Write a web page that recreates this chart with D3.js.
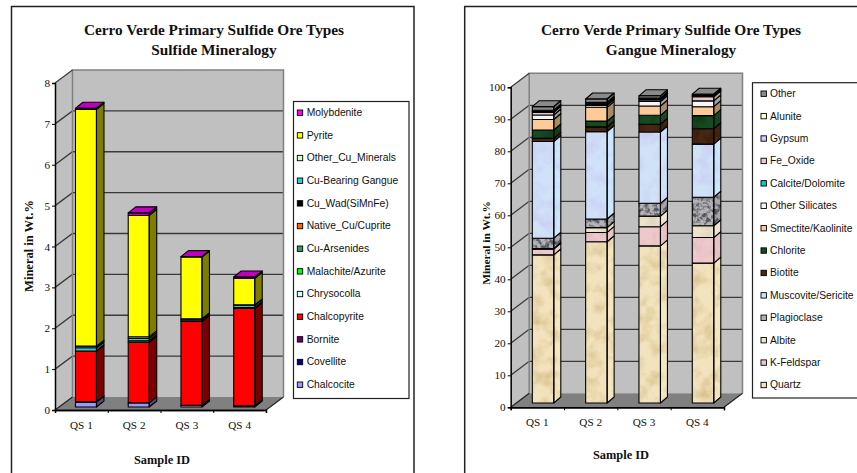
<!DOCTYPE html>
<html>
<head>
<meta charset="utf-8">
<script src="https://cdn.jsdelivr.net/npm/d3@7"></script>
<style>
  body { margin: 0; background: #fff; }
  svg { display: block; }
  .serif { font-family: "Liberation Serif", serif; fill: #111; }
  .legend-text { font-family: "Liberation Sans", sans-serif; font-size: 10.3px; fill: #111; }
</style>
</head>
<body>
<div id="chart"></div>
<script>
const samples = ["QS 1", "QS 2", "QS 3", "QS 4"];

// Sulfide chart, wt.% per sample
const chalcocite = [0.12, 0.10, 0.04, 0.02];
const covellite = [0, 0, 0, 0.01];
const bornite = [0.01, 0, 0, 0];
const chalcopyrite = [1.24, 1.48, 2.05, 2.38];
const chrysocolla = [0, 0, 0.02, 0];
const malachite = [0, 0, 0, 0];
const cuArsenides = [0, 0.04, 0, 0.02];
const nativeCu = [0, 0, 0, 0];
const cuWad = [0, 0, 0, 0];
const cuGangue = [0.08, 0.06, 0.04, 0.06];
const otherCu = [0.04, 0.04, 0.01, 0.01];
const pyrite = [5.79, 2.97, 1.51, 0.65];
const molybdenite = [0.03, 0.06, 0.01, 0.03];

const sulfideNames = ["Chalcocite", "Covellite", "Bornite", "Chalcopyrite", "Chrysocolla", "Malachite/Azurite",
  "Cu-Arsenides", "Native_Cu/Cuprite", "Cu_Wad(SiMnFe)", "Cu-Bearing Gangue", "Other_Cu_Minerals", "Pyrite", "Molybdenite"];
const sulfideValues = [chalcocite, covellite, bornite, chalcopyrite, chrysocolla, malachite,
  cuArsenides, nativeCu, cuWad, cuGangue, otherCu, pyrite, molybdenite];
const sulfideColors = ["#9999ff", "#000080", "#660066", "#ff0000", "#ccffff", "#00ff00",
  "#339966", "#ff6600", "#000000", "#33cccc", "#ccffcc", "#ffff00", "#ff00ff"];

// Gangue chart, wt.% per sample
const quartz = [46.3, 50.4, 49.1, 43.7];
const kFeldspar = [1.8, 2.9, 6.0, 8.0];
const albite = [0.2, 1.5, 3.3, 3.7];
const plagioclase = [3.2, 2.7, 4.0, 8.9];
const muscovite = [30.2, 27.3, 22.3, 16.6];
const biotite = [1.0, 1.5, 2.4, 4.8];
const chlorite = [2.6, 1.8, 2.8, 4.1];
const smectite = [3.3, 4.3, 2.9, 2.8];
const otherSilicates = [1.4, 0.6, 1.4, 1.8];
const calcite = [0, 0.1, 0, 0];
const feOxide = [0.8, 0.3, 0.5, 1.3];
const gypsum = [0.3, 0.3, 0.3, 0.2];
const alunite = [0.4, 0.3, 0.3, 0.2];
const otherGangue = [1.1, 1.0, 0.7, 0.4];

const gangueNames = ["Quartz", "K-Feldspar", "Albite", "Plagioclase", "Muscovite/Sericite", "Biotite", "Chlorite",
  "Smectite/Kaolinite", "Other Silicates", "Calcite/Dolomite", "Fe_Oxide", "Gypsum", "Alunite", "Other"];
const gangueValues = [quartz, kFeldspar, albite, plagioclase, muscovite, biotite, chlorite,
  smectite, otherSilicates, calcite, feOxide, gypsum, alunite, otherGangue];
const gangueColors = ["#f2e2bd", "#eec9cb", "#eee3cf", "#b4b4b8", "#d0e2f8", "#4a2712", "#174a22",
  "#fdcb98", "#f6f6f6", "#00cccc", "#eccaca", "#ccccff", "#ffffcc", "#8c8c8c"];
const gangueSides = ["#f6e6c0", "#eec9cb", "#f0e6d0", "#a8a8ac", "#cce8ff", "#4a2712", "#174a22",
  "#a88a64", "#a0a0a0", "#008080", "#b09a9a", "#8888aa", "#aaaa88", "#707070"];
const gangueNoise = ["#c9ad72", "#d9a8ac", "#cfc0a0", "#55555c", "#c6bdf0", "#1e0c02", "#06280e",
  null, null, null, "#c9a0a0", null, null, null];

const svg = d3.select("#chart").append("svg").attr("width", 857).attr("height", 473);
const defs = svg.append("defs");

// noise overlay for the picture-filled bars
gangueNoise.forEach((tint, i) => {
  if (!tint) return;
  const rgb = d3.rgb(tint);
  const f = defs.append("filter").attr("id", "tex" + i)
    .attr("x", 0).attr("y", 0).attr("width", 1).attr("height", 1)
    .attr("color-interpolation-filters", "sRGB");
  f.append("feTurbulence").attr("type", "fractalNoise")
    .attr("baseFrequency", i === 3 ? 0.22 : 0.07).attr("numOctaves", 3).attr("seed", i + 2).attr("result", "n");
  const k = i === 3 ? 4 : 1.3;
  f.append("feColorMatrix").attr("in", "n").attr("type", "matrix")
    .attr("values", `0 0 0 0 ${rgb.r / 255} 0 0 0 0 ${rgb.g / 255} 0 0 0 0 ${rgb.b / 255} ${k} 0 0 0 ${-k * 0.42}`)
    .attr("result", "c");
  f.append("feComposite").attr("in", "c").attr("in2", "SourceGraphic").attr("operator", "in").attr("result", "m");
  const merge = f.append("feMerge");
  merge.append("feMergeNode").attr("in", "SourceGraphic");
  merge.append("feMergeNode").attr("in", "m");
});

function poly(pts) {
  return "M" + pts.map(p => p.join(",")).join("L") + "Z";
}

function drawChart(c) {
  const g = svg.append("g");
  const x = d3.scaleBand().domain(samples).range([c.left, c.right]);
  const xEdge = d3.scaleLinear().domain([0, samples.length]).range([c.left, c.right]);
  const y = d3.scaleLinear().domain([0, c.max]).range([c.bottom, c.top]);
  const tickVals = d3.range(0, c.max + c.step, c.step);

  // panel frame, open at the bottom of the page
  g.append("path").attr("d", `M${c.frame[0]},473V6.5H${c.frame[1]}V473`)
    .attr("fill", "none").attr("stroke", "#222").attr("stroke-width", 1.5);

  // walls and floor
  const dx = c.dx, dy = c.dy;
  g.append("path").attr("fill", "#c0c0c0")
    .attr("d", poly([[c.left, c.bottom], [c.left, c.top], [c.left + dx, c.top + dy], [c.right + dx, c.top + dy], [c.right + dx, c.bottom + dy], [c.left + dx, c.bottom + dy]]));
  g.append("path").attr("fill", "#808080")
    .attr("d", poly([[c.left, c.bottom], [c.right, c.bottom], [c.right + dx, c.bottom + dy], [c.left + dx, c.bottom + dy]]));

  // gridlines run along the side wall and then across the back
  tickVals.slice(1, -1).forEach(t => {
    g.append("path").attr("fill", "none").attr("stroke", "#3a3a3a").attr("stroke-width", 1.3)
      .attr("d", `M${c.left},${y(t)}L${c.left + dx},${y(t) + dy}H${c.right + dx}`);
  });
  g.append("path").attr("fill", "none").attr("stroke", "#808080").attr("stroke-width", 1.5)
    .attr("d", `M${c.left + dx},${c.bottom + dy}V${c.top + dy}H${c.right + dx}V${c.bottom + dy}`);
  g.append("path").attr("fill", "none").attr("stroke", "#3a3a3a").attr("stroke-width", 1.2)
    .attr("d", `M${c.left},${c.top}L${c.left + dx},${c.top + dy}`);
  g.append("path").attr("fill", "none").attr("stroke", "#222").attr("stroke-width", 1.2)
    .attr("d", `M${c.left},${c.bottom}L${c.left + dx},${c.bottom + dy}M${c.right},${c.bottom}L${c.right + dx},${c.bottom + dy}`);

  // stacked boxes
  const rows = samples.map((s, i) => {
    const row = { sample: s };
    c.names.forEach((n, j) => { row[n] = c.values[j][i]; });
    return row;
  });
  const stack = d3.stack().keys(c.names)(rows);
  const gap = (x.bandwidth() - c.barW) / 2;

  stack.forEach((layer, j) => {
    layer.forEach(d => {
      if (d[1] - d[0] <= 0) return;
      const x0 = x(d.data.sample) + gap + c.barDx;
      const x1 = x0 + c.barW;
      const yb = y(d[0]) + c.barDy;
      const yt = y(d[1]) + c.barDy;
      const front = poly([[x0, yb], [x1, yb], [x1, yt], [x0, yt]]);
      const side = poly([[x1, yb], [x1 + c.depthX, yb + c.depthY], [x1 + c.depthX, yt + c.depthY], [x1, yt]]);
      const top = poly([[x0, yt], [x1, yt], [x1 + c.depthX, yt + c.depthY], [x0 + c.depthX, yt + c.depthY]]);
      const isTop = j === stack.length - 1;
      const sf = c.sides ? c.sides[j] : d3.rgb(c.colors[j]).darker(2).formatHex();
      const tf = c.sides ? "#8a8a8a" : "#c000c0";

      const faces = [[front, c.colors[j], true], [side, sf, true]];
      if (isTop) faces.push([top, tf, false]);
      faces.forEach(([path, fill, textured]) => {
        const p = g.append("path").attr("d", path).attr("fill", fill);
        if (textured && c.noise && c.noise[j]) p.attr("filter", `url(#tex${j})`);
      });
      faces.forEach(([path]) => {
        g.append("path").attr("d", path).attr("fill", "none").attr("stroke", "#000")
          .attr("stroke-width", 1.1).attr("stroke-linejoin", "round");
      });
    });
  });

  // axes
  const yAxis = g.append("g").attr("transform", `translate(${c.left},0)`)
    .call(d3.axisLeft(y).tickValues(tickVals).tickSize(3).tickPadding(2).tickFormat(d3.format("d")));
  const xAxis = g.append("g").attr("transform", `translate(0,${c.bottom})`)
    .call(d3.axisBottom(x).tickSize(0).tickPadding(11));
  const xTicks = g.append("g").attr("transform", `translate(0,${c.bottom})`)
    .call(d3.axisBottom(xEdge).ticks(samples.length).tickSize(3).tickFormat(""));
  [yAxis, xAxis, xTicks].forEach(a => {
    a.selectAll(".domain").attr("stroke", "#000").attr("stroke-width", 1.5);
    a.selectAll("line").attr("stroke", "#000").attr("stroke-width", 1);
    a.selectAll("text").attr("class", "serif").style("font-size", "11.2px").style("font-family", "Liberation Serif");
  });

  // titles
  c.title.forEach((t, i) => {
    g.append("text").attr("class", "serif").attr("x", c.titleX).attr("y", 34.5 + i * 20.8)
      .attr("text-anchor", "middle").style("font-weight", "bold").style("font-size", "15.3px").text(t);
  });
  g.append("text").attr("class", "serif").attr("x", c.xTitle[0]).attr("y", c.xTitle[1])
    .attr("text-anchor", "middle").style("font-weight", "bold").style("font-size", "12.4px").text("Sample ID");
  g.append("text").attr("class", "serif")
    .attr("transform", `translate(${c.yTitle[0]},${c.yTitle[1]}) rotate(-90)`)
    .attr("text-anchor", "middle").style("font-weight", "bold").style("font-size", c.yTitle[2] + "px").text("Mineral in Wt.%");

  // legend, top entry is the last series
  g.append("rect").attr("x", c.legend.x).attr("y", c.legend.y).attr("width", c.legend.w).attr("height", c.legend.h)
    .attr("fill", "#fff").attr("stroke", "#222").attr("stroke-width", 1.2);
  const entries = c.names.map((n, j) => ({ n, j })).reverse();
  const ly = d3.scalePoint().domain(entries.map(e => e.n)).range([c.legend.first, c.legend.last]);
  entries.forEach(e => {
    g.append("rect").attr("x", c.legend.sx).attr("y", ly(e.n) - 2.7).attr("width", 5.4).attr("height", 5.4)
      .attr("fill", c.colors[e.j]).attr("stroke", "#000").attr("stroke-width", 0.9);
    g.append("text").attr("class", "legend-text").attr("x", c.legend.tx).attr("y", ly(e.n) + 3.4).text(e.n);
  });
}

drawChart({
  frame: [11.5, 414], max: 8, step: 1,
  left: 55, right: 266, top: 83, bottom: 410,
  dx: 17.5, dy: -13, barW: 21, barDx: 4.6, barDy: -3, depthX: 7.5, depthY: -6,
  names: sulfideNames, values: sulfideValues, colors: sulfideColors,
  title: ["Cerro Verde Primary Sulfide Ore Types", "Sulfide Mineralogy"], titleX: 214,
  xTitle: [162, 464], yTitle: [33, 246, 12.5],
  legend: { x: 293.5, y: 101.5, w: 115.5, h: 297, first: 112.7, last: 384.7, sx: 297.3, tx: 306.7 }
});

drawChart({
  frame: [464.7, 870], max: 100, step: 10,
  left: 510.7, right: 724, top: 87.3, bottom: 407.3,
  dx: 18.5, dy: -14, barW: 21.5, barDx: 5.7, barDy: -4.3, depthX: 7, depthY: -6,
  names: gangueNames, values: gangueValues, colors: gangueColors, sides: gangueSides, noise: gangueNoise,
  title: ["Cerro Verde Primary Sulfide Ore Types", "Gangue Mineralogy"], titleX: 671,
  xTitle: [621, 459], yTitle: [490, 243, 11.4],
  legend: { x: 752.5, y: 82.7, w: 120, h: 315.3, first: 93.7, last: 385, sx: 761, tx: 770 }
});
</script>
</body>
</html>
